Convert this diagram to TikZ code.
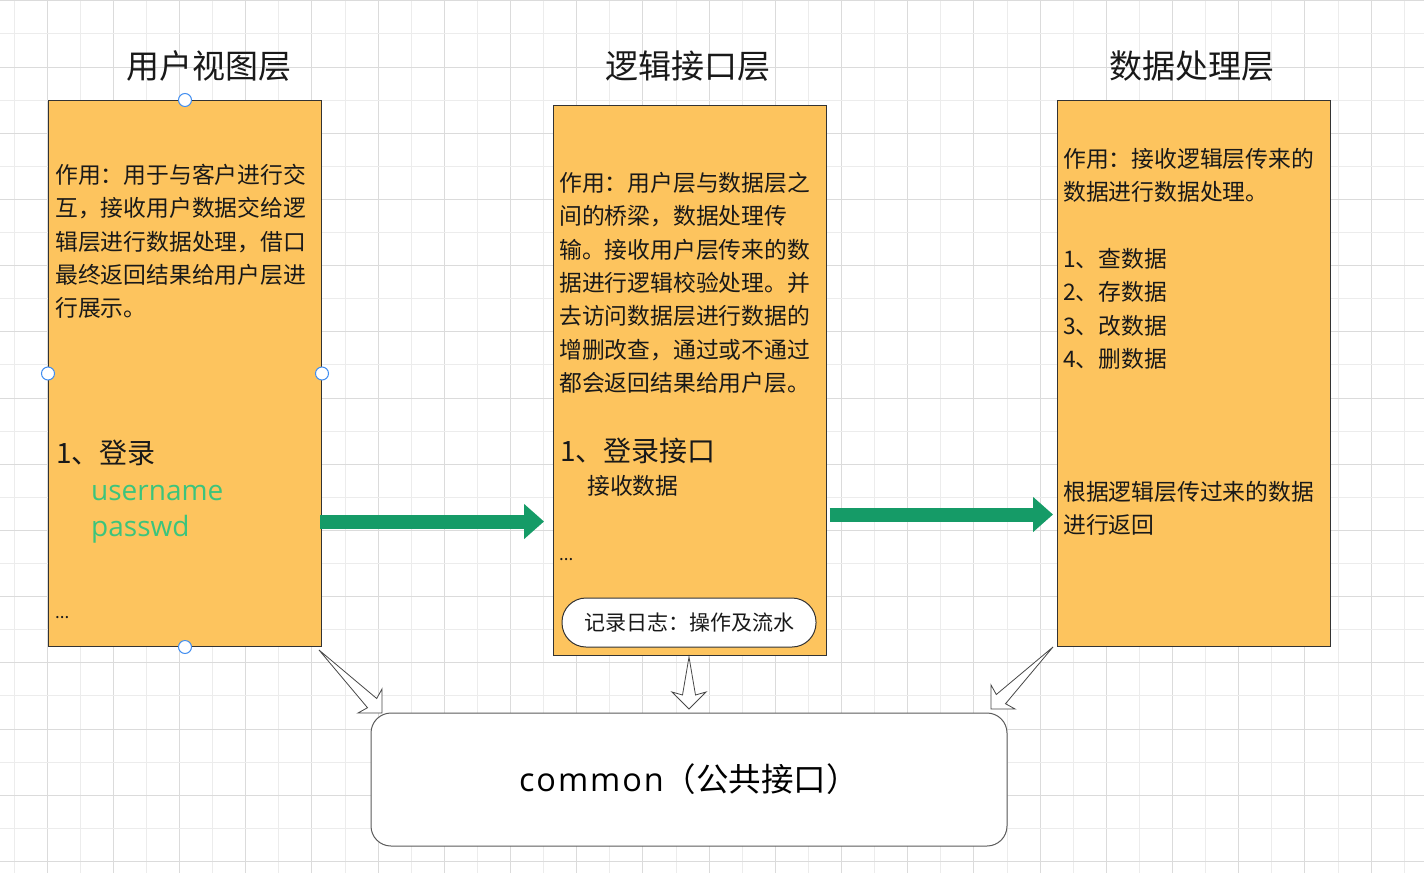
\documentclass[tikz,border=0pt]{standalone}
\usepackage{fontspec}
\setmainfont{Noto Sans CJK SC}
\newfontfamily\latinfont{Open Sans}
\newfontfamily\latinwide[LetterSpace=6]{Open Sans}
\usetikzlibrary{arrows.meta,calc}

\definecolor{boxfill}{RGB}{253,196,94}
\definecolor{boxline}{RGB}{51,51,51}
\definecolor{flowgreen}{RGB}{21,155,103}
\definecolor{fieldgreen}{RGB}{60,196,124}
\definecolor{handleblue}{RGB}{66,142,240}
\definecolor{gridmajor}{RGB}{219,219,219}
\definecolor{gridminor}{RGB}{236,236,236}
\definecolor{textdark}{RGB}{25,25,25}

\tikzset{
  layer/.style={draw=boxline, fill=boxfill, line width=1pt, anchor=north west,
    inner sep=0pt, minimum width=273pt},
  heading/.style={font=\fontsize{33}{40}\selectfont, inner sep=0pt, text=textdark},
  body/.style={font=\fontsize{22.8}{33}\selectfont, anchor=base west, inner sep=0pt, text=textdark},
  bigitem/.style={font=\fontsize{28}{34}\selectfont, anchor=base west, inner sep=0pt, text=textdark},
  field/.style={font=\fontsize{28}{34}\latinfont, anchor=base west, inner sep=0pt, text=fieldgreen},
  dots/.style={font=\fontsize{17}{20}\selectfont, anchor=base west, inner sep=0pt, text=textdark},
  handle/.style={circle, draw=handleblue, fill=white, line width=1pt, minimum size=13pt, inner sep=0pt},
  flow/.style={draw=flowgreen, line width=14pt,
    -{Triangle[length=20pt 0 0, width=34pt 0 0]}},
  hollow/.style={draw=boxline!90, fill=white, line width=0.8pt, line join=miter},
}

% block arrow outline: tapered shaft from #1 to a wide head at #2
\newcommand\hollowarrow[2]{%
  \path ($(#2)!17pt!(#1)$) coordinate (hb) ($(#2)!14pt!(#1)$) coordinate (nb);
  \draw[hollow] (#1) -- ($(nb)!6.5pt!90:(#1)$) -- ($(hb)!17pt!90:(#1)$) -- (#2)
    -- ($(hb)!17pt!-90:(#1)$) -- ($(nb)!6.5pt!-90:(#1)$) -- cycle;
}

\begin{document}
\begin{tikzpicture}[x=1pt, y=-1pt]
\useasboundingbox (0,0) rectangle (1424,873);
\fill[white] (0,0) rectangle (1424,873);

% background grid
\foreach \k in {0,...,43} {
  \pgfmathsetmacro\gx{14+33.1*\k}
  \ifodd\k \draw[gridmajor, line width=1pt] (\gx,0) -- (\gx,873);
  \else \draw[gridminor, line width=1pt] (\gx,0) -- (\gx,873); \fi
}
\foreach \k in {0,...,26} {
  \pgfmathsetmacro\gy{0.8+33.1*\k}
  \ifodd\k \draw[gridminor, line width=1pt] (0,\gy) -- (1424,\gy);
  \else \draw[gridmajor, line width=1pt] (0,\gy) -- (1424,\gy); \fi
}

% headings
\node[heading] (t1) at (209,66) {用户视图层};
\node[heading] (t2) at (688,66) {逻辑接口层};
\node[heading] (t3) at (1192,66) {数据处理层};

% the three layers
\node[layer, minimum height=546pt] (b1) at (48,100) {};
\node[layer, minimum height=550pt] (b2) at (553,105) {};
\node[layer, minimum height=546pt] (b3) at (1057,100) {};

% user view layer
\foreach \t [count=\i from 0] in {作用：用于与客户进行交, 互，接收用户数据交给逻,
    辑层进行数据处理，借口, 最终返回结果给用户层进, 行展示。}
  \node[body] (ua\i) at (55,183.6+33.3*\i) {\t};
\node[bigitem] (ub) at (56,463.6) {1、登录};
\node[field] (uc) at (91,500.5) {username};
\node[field] (ud) at (91,536.5) {passwd};
\node[dots] (ue) at (55,618) {...};

% logic interface layer
\foreach \t [count=\i from 0] in {作用：用户层与数据层之, 间的桥梁，数据处理传,
    输。接收用户层传来的数, 据进行逻辑校验处理。并, 去访问数据层进行数据的,
    增删改查，通过或不通过, 都会返回结果给用户层。}
  \node[body] (la\i) at (559,191.6+33.3*\i) {\t};
\node[bigitem] (lb) at (560,461.6) {1、登录接口};
\node[body] (lc) at (587,494.6) {接收数据};
\node[dots] (ld) at (559,560) {...};
\node[draw=boxline, fill=white, line width=1pt, rounded corners=24pt,
  minimum width=254pt, minimum height=49pt, inner sep=0pt,
  font=\fontsize{21}{24}\selectfont, text=textdark] (log) at (689,622.5) {记录日志：操作及流水};

% data processing layer
\node[body] (da0) at (1063,167.6) {作用：接收逻辑层传来的};
\node[body] (da1) at (1063,200.6) {数据进行数据处理。};
\foreach \t [count=\i from 0] in {1、查数据, 2、存数据, 3、改数据, 4、删数据}
  \node[body] (db\i) at (1063,267.6+33.3*\i) {\t};
\node[body] (dc0) at (1063,500.6) {根据逻辑层传过来的数据};
\node[body] (dc1) at (1063,533.8) {进行返回};

% shared interface
\node[draw=boxline!80, fill=white, line width=1pt, rounded corners=20pt,
  minimum width=636pt, minimum height=133pt, inner sep=0pt,
  font=\fontsize{32.5}{38}\selectfont, text=black] (common) at (689,779.5)
  {{\latinwide common}（公共接口）};

% selection handles on the first layer
\node[handle] (hn) at (b1.north) {};
\node[handle] (hs) at (b1.south) {};
\node[handle] (hw) at (b1.west) {};
\node[handle] (he) at (b1.east) {};

% data flow between layers
\coordinate (g1) at (0,521.5);
\coordinate (g2) at (0,514.5);
\draw[flow, shorten <=-2pt, shorten >=9pt] (b1.east |- g1) -- (b2.west |- g1);
\draw[flow, shorten <=2.5pt, shorten >=4pt] (b2.east |- g2) -- (b3.west |- g2);

% every layer depends on the shared interface
\coordinate (c1s) at (319,650);  \coordinate (c1e) at (382,713);
\coordinate (c2s) at (689,657);  \coordinate (c2e) at (689,709);
\coordinate (c3s) at (1053,647); \coordinate (c3e) at (991,709);
\hollowarrow{c1s}{c1e}
\hollowarrow{c2s}{c2e}
\hollowarrow{c3s}{c3e}
\end{tikzpicture}
\end{document}
